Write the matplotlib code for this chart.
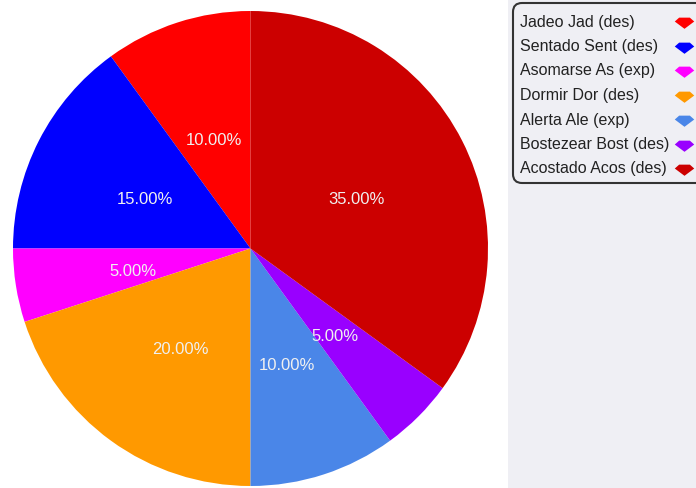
import matplotlib
matplotlib.use("Agg")
import matplotlib.pyplot as plt
from matplotlib.path import Path
from matplotlib.patches import FancyBboxPatch, Rectangle

labels = ["Jadeo Jad (des)", "Sentado Sent (des)", "Asomarse As (exp)", "Dormir Dor (des)",
          "Alerta Ale (exp)", "Bostezear Bost (des)", "Acostado Acos (des)"]
values = [10, 15, 5, 20, 10, 5, 35]
colors = ["#ff0000", "#0000ff", "#ff00ff", "#ff9900", "#4a86e8", "#9900ff", "#cc0000"]

W, H = 696, 489
plt.rcParams['font.family'] = ['Liberation Sans', 'DejaVu Sans']
fig = plt.figure(figsize=(W / 100, H / 100), dpi=100)

# grey side panel (behind everything)
fig.patches.append(Rectangle((508 / W, 0), 1 - 508 / W, 1, transform=fig.transFigure,
                             facecolor="#efeff4", edgecolor="none", zorder=-5))

# pie
cx, cy, r = 250.5, 249.5, 237.5
ax = fig.add_axes([(cx - r) / W, (H - cy - r) / H, 2 * r / W, 2 * r / H])
wedges, texts, autotexts = ax.pie(values, colors=colors, startangle=90, counterclock=True,
                                  autopct="%.2f%%", pctdistance=0.5,
                                  wedgeprops=dict(linewidth=0),
                                  textprops=dict(color="#f0f0f0", fontsize=12))
for t in autotexts:
    x, y = t.get_position()
    t.set_position((x, y - 3.5 / r))
ax.set_xlim(-1, 1)
ax.set_ylim(-1, 1)
ax.set_aspect("equal")
ax.axis("off")

# legend drawn in pixel coordinates
lg = fig.add_axes([0, 0, 1, 1], facecolor="none")
lg.set_xlim(0, W)
lg.set_ylim(H, 0)
lg.axis("off")
lg.add_patch(FancyBboxPatch((521, 12), 200, 164, boxstyle="round,pad=8,rounding_size=9",
                            facecolor="#efeff4", edgecolor="#333333", linewidth=1.5))

gem = Path([(-0.55, 0.5), (0.55, 0.5), (1.0, 0.1), (0.0, -0.65), (-1.0, 0.1), (-0.55, 0.5)],
           [Path.MOVETO, Path.LINETO, Path.LINETO, Path.LINETO, Path.LINETO, Path.CLOSEPOLY])

for i, (lab, col) in enumerate(zip(labels, colors)):
    y = 22 + i * 24.5
    lg.text(520, y, lab, fontsize=11.5, color="#222222", va="center", ha="left")
    lg.plot([684], [y + 1], marker=gem, markersize=14, color=col, markeredgewidth=0)

fig.savefig("out.png", dpi=100)
